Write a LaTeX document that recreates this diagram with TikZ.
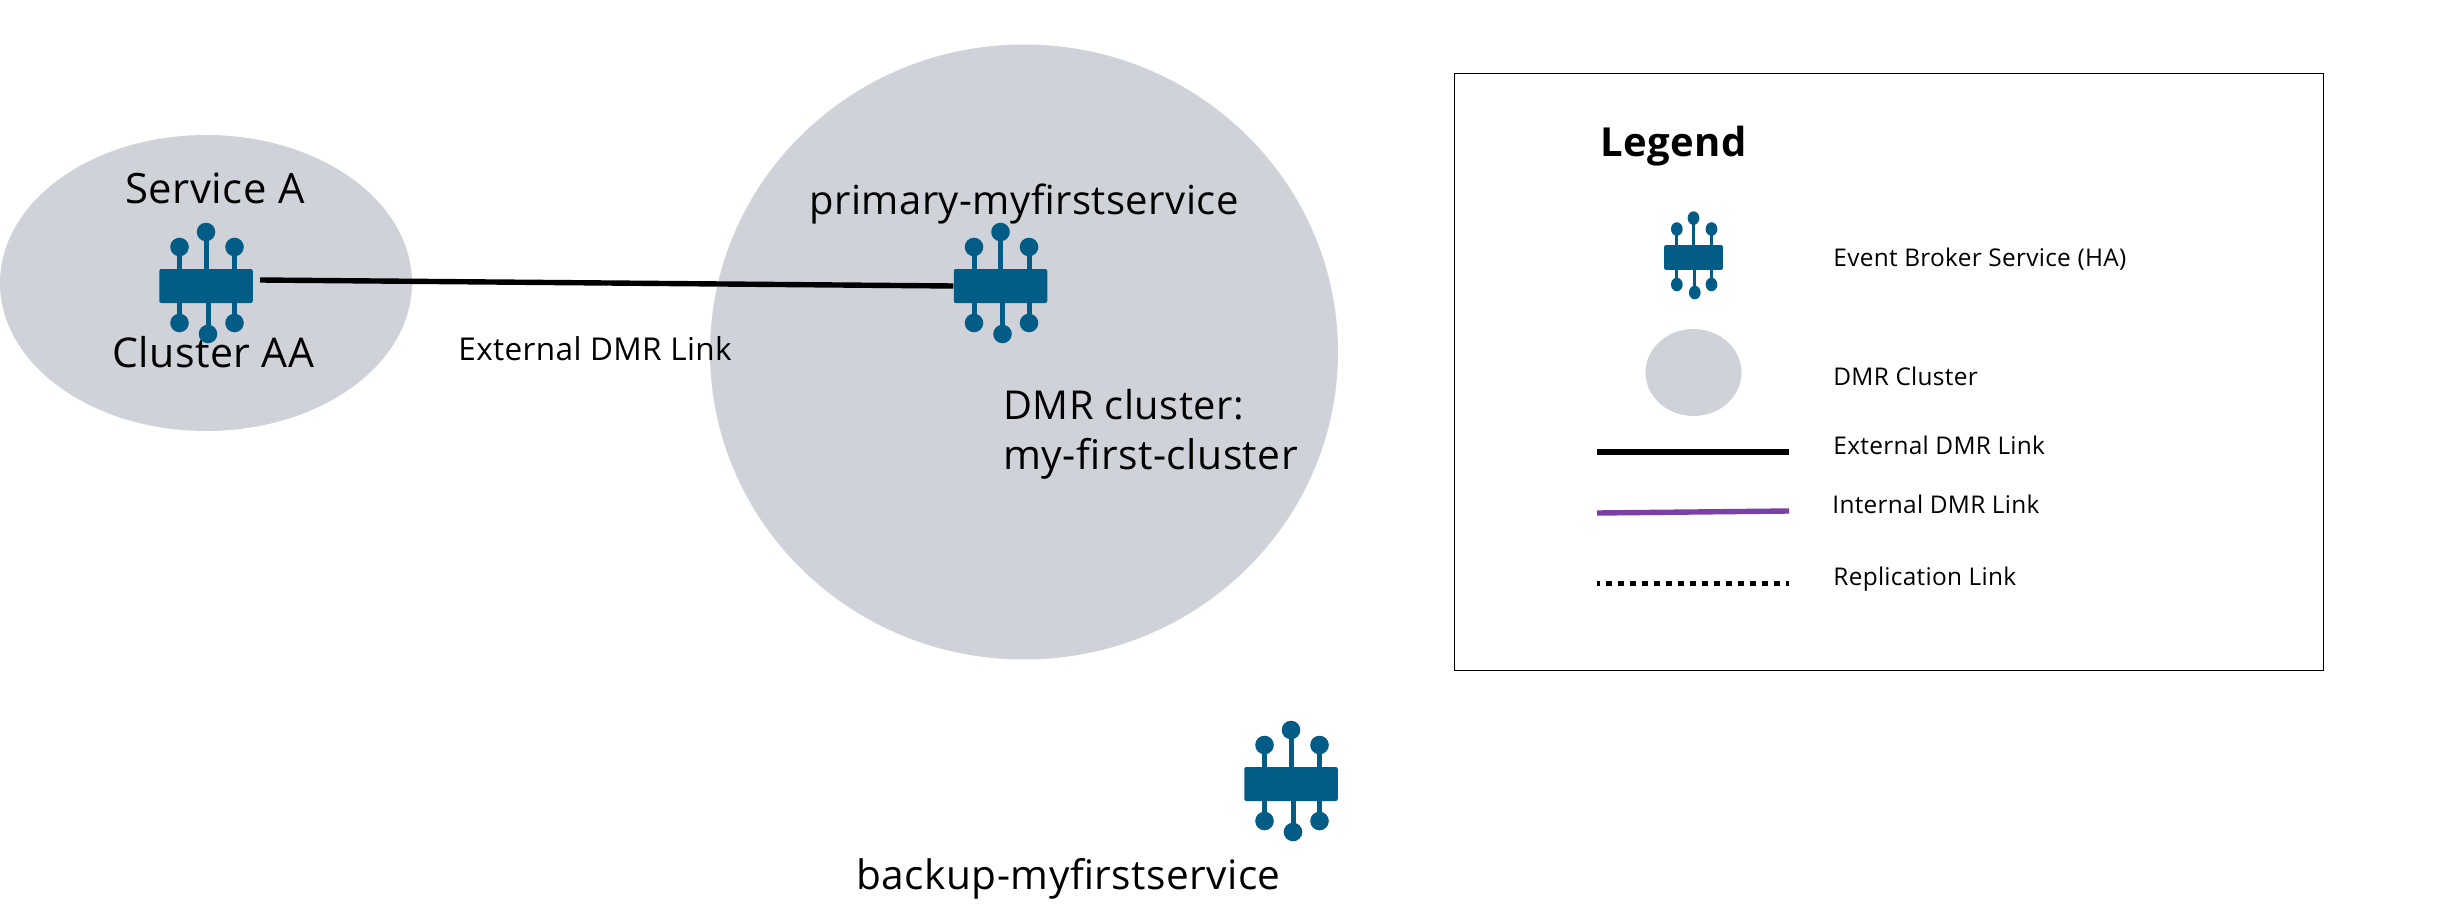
\documentclass[tikz,border=0pt]{standalone}
\usepackage{fontspec}
\setmainfont[LetterSpace=1.2]{Open Sans}
\usetikzlibrary{shapes.geometric}
\definecolor{brokerblue}{HTML}{025C85}
\definecolor{clustergray}{HTML}{CFD2D9}
\definecolor{intpurple}{HTML}{7B3FA8}
\newcommand{\fontpx}[1]{\fontsize{#1}{#1}\selectfont}
\tikzset{
  clusterblob/.style={ellipse,fill=clustergray,draw=none,inner sep=0pt},
  brokerbody/.style={rectangle,fill=brokerblue,draw=none,inner sep=0pt,rounded corners=1pt},
  biglabel/.style={anchor=base west,inner sep=0pt,font=\fontpx{#1}},
  biglabel/.default=20pt,
  midlabel/.style={anchor=base west,inner sep=0pt,font=\fontpx{15.75pt}},
  leglabel/.style={anchor=base west,inner sep=0pt,font=\fontpx{12.2pt}},
  legtitle/.style={anchor=base west,inner sep=0pt,font=\fontpx{20pt}\bfseries},
  extlink/.style={draw=black,line width=2.7pt},
  intlink/.style={draw=intpurple,line width=2.7pt},
  replink/.style={draw=black,line width=2.5pt,dash pattern=on 3pt off 3pt,dash phase=1.5pt},
}
% name, x, y, xscale, yscale
\newcommand{\broker}[5]{%
  \begin{scope}[shift={(#2,#3)},xscale=#4,yscale=#5]
    \draw[brokerblue,line width={2.5pt*#4}] (-26.5,-39) -- (-26.5,37) (28.5,-39) -- (28.5,37) (0,-54) -- (0,0) (2,0) -- (2,48);
    \fill[brokerblue] (0,-54) circle (9.3) (-26.5,-39) circle (9.3) (28.5,-39) circle (9.3)
      (-26.5,37) circle (9.3) (28.5,37) circle (9.3) (2,48) circle (9.3);
  \end{scope}
  \node[brokerbody,minimum width={#4*46.75pt},minimum height={#5*17pt}] (#1) at (#2,#3) {};
}
\begin{document}
\begin{tikzpicture}[x=0.5pt,y=-0.5pt]
\useasboundingbox (0,0) rectangle (2450,909);
\node[clusterblob,minimum width=206pt,minimum height=148pt] (clusterA) at (206,283) {};
\node[clusterblob,minimum width=314pt,minimum height=307.5pt] (clusterB) at (1024,352) {};
\broker{brokerA}{206}{286}{1}{1}
\broker{brokerP}{1000.5}{286}{1}{1}
\broker{brokerB}{1291}{784}{1}{1}
\draw[extlink] ([xshift=3.5pt,yshift=3pt]brokerA.east) -- (brokerP.west);
\node[biglabel=20.9pt] (svc) at (125,204) {Service A};
\node[biglabel=20.5pt] (cl) at (112,367) {Cluster AA};
\node[biglabel] (pri) at (809,214) {primary-myfirstservice};
\node[biglabel=19.9pt] (dmr1) at (1003,419) {DMR cluster:};
\node[biglabel=20.4pt] (dmr2) at (1003,469) {my-first-cluster};
\node[biglabel=20.3pt] (bak) at (856,889) {backup-myfirstservice};
\node[midlabel] (ext) at (458,360) {External DMR Link};
\node[draw=black,line width=0.5pt,minimum width=434.25pt,minimum height=298.25pt,inner sep=0pt,anchor=north west] (legend) at (1454,73) {};
\node[legtitle] (ltitle) at (1600,157) {Legend};
\broker{lbroker}{1693.5}{257.5}{0.63}{0.73}
\node[clusterblob,minimum width=48pt,minimum height=43.5pt] (lcluster) at (1693.5,372.5) {};
\coordinate (e1) at (1597,452); \coordinate (e2) at (1789,452);
\coordinate (i1) at (1597,513); \coordinate (i2) at (1789,511);
\coordinate (r1) at (1597,583); \coordinate (r2) at (1789,583);
\draw[extlink] (e1) -- (e2);
\draw[intlink] (i1) -- (i2);
\draw[replink] (r1) -- (r2);
\node[leglabel] (l1) at (1833,266) {Event Broker Service (HA)};
\node[leglabel] (l2) at (1833,385) {DMR Cluster};
\node[leglabel] (l3) at (1833,454) {External DMR Link};
\node[leglabel] (l4) at (1832,513) {Internal DMR Link};
\node[leglabel] (l5) at (1833,585) {Replication Link};
\end{tikzpicture}
\end{document}
